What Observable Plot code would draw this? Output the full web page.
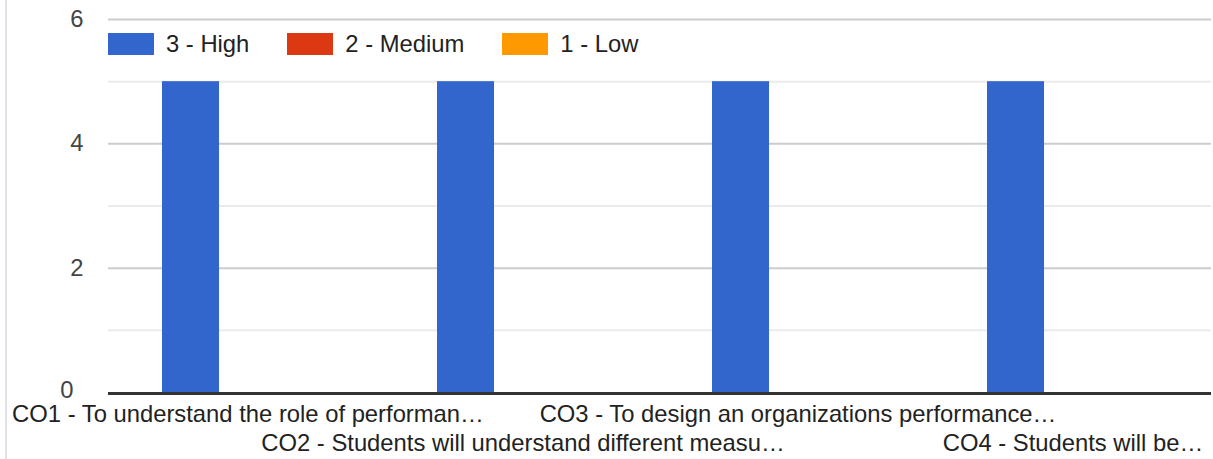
<!DOCTYPE html>
<html><head><meta charset="utf-8">
<script src="https://cdn.jsdelivr.net/npm/d3@7"></script>
<script src="https://cdn.jsdelivr.net/npm/@observablehq/plot@0.6"></script>
<style>
body{margin:0;background:#fff;font-family:"Liberation Sans",Arial,sans-serif;}
#wrap{position:relative;width:1213px;height:459px;overflow:hidden;}
#edge{position:absolute;left:5px;top:0;width:2px;height:459px;background:#e2e2ea;}
#legend{position:absolute;left:108px;top:33px;display:flex;align-items:center;font-size:23.8px;color:#222;line-height:22px;}
.item{display:flex;align-items:center;margin-right:38px;}
.sw{width:46px;height:22px;margin-right:12px;}
</style></head><body><div id="wrap"><div id="edge"></div><div id="legend"></div></div>
<script>
const categories = [
  "CO1 - To understand the role of performan…",
  "CO2 - Students will understand different measu…",
  "CO3 - To design an organizations performance…",
  "CO4 - Students will be…"
];
const series = ["3 - High", "2 - Medium", "1 - Low"];
const colors = ["#3366cc", "#dc3912", "#ff9900"];
const high = [5, 5, 5, 5];
const medium = [0, 0, 0, 0];
const low = [0, 0, 0, 0];
const yTicks = [0, 2, 4, 6];
const yMinor = [1, 3, 5];

const values = [high, medium, low];
const W = 1213, H = 459, mL = 108, mR = 2, mT = 19, mB = 67;
const padInner = 0.38;
const step = (W - mL - mR) / categories.length;
const third = step * (1 - padInner) / series.length;

const barMarks = series.map((s, i) => Plot.barY(
  categories.map((c, j) => ({category: c, series: s, value: values[i][j]})),
  {x: "category", y: "value", fill: "series",
   insetLeft: i * third, insetRight: (series.length - 1 - i) * third}
));

const chart = Plot.plot({
  width: W, height: H,
  marginLeft: mL, marginRight: mR, marginTop: mT, marginBottom: mB,
  style: {fontFamily: '"Liberation Sans", Arial, sans-serif', fontSize: "23.8px", background: "transparent"},
  x: {domain: categories, paddingInner: padInner, paddingOuter: padInner / 2, axis: null},
  y: {domain: [0, 6], axis: null},
  color: {domain: series, range: colors},
  marks: [
    Plot.ruleY(yMinor, {stroke: "#ebebeb", strokeWidth: 2}),
    Plot.ruleY(yTicks.filter(d => d !== 0), {stroke: "#cccccc", strokeWidth: 2}),
    ...barMarks,
    Plot.ruleY([0], {stroke: "#333333", strokeWidth: 3, dy: 1}),
    Plot.axisY({ticks: yTicks.filter(d => d !== 0), tickFormat: d3.format("d"), tickSize: 0, tickPadding: 25, label: null, color: "#444"}),
    Plot.axisY({ticks: [0], tickFormat: d3.format("d"), tickSize: 0, tickPadding: 35, dy: -2, label: null, color: "#444"}),
    Plot.axisX({ticks: categories.filter((d, i) => i % 2 === 0), tickSize: 0, tickPadding: 13, label: null, color: "#222"}),
    Plot.axisX({ticks: categories.filter((d, i) => i % 2 === 1), tickSize: 0, tickPadding: 42, label: null, color: "#222"})
  ]
});
document.getElementById("wrap").appendChild(chart);
chart.style.position = "absolute";
chart.style.left = "0";
chart.style.top = "0";

const legend = document.getElementById("legend");
series.forEach((s, i) => {
  const item = document.createElement("div");
  item.className = "item";
  const sw = document.createElement("div");
  sw.className = "sw";
  sw.style.background = colors[i];
  const t = document.createElement("span");
  t.textContent = s;
  item.appendChild(sw); item.appendChild(t);
  legend.appendChild(item);
});
document.getElementById("wrap").appendChild(legend);
</script>
</body></html>
